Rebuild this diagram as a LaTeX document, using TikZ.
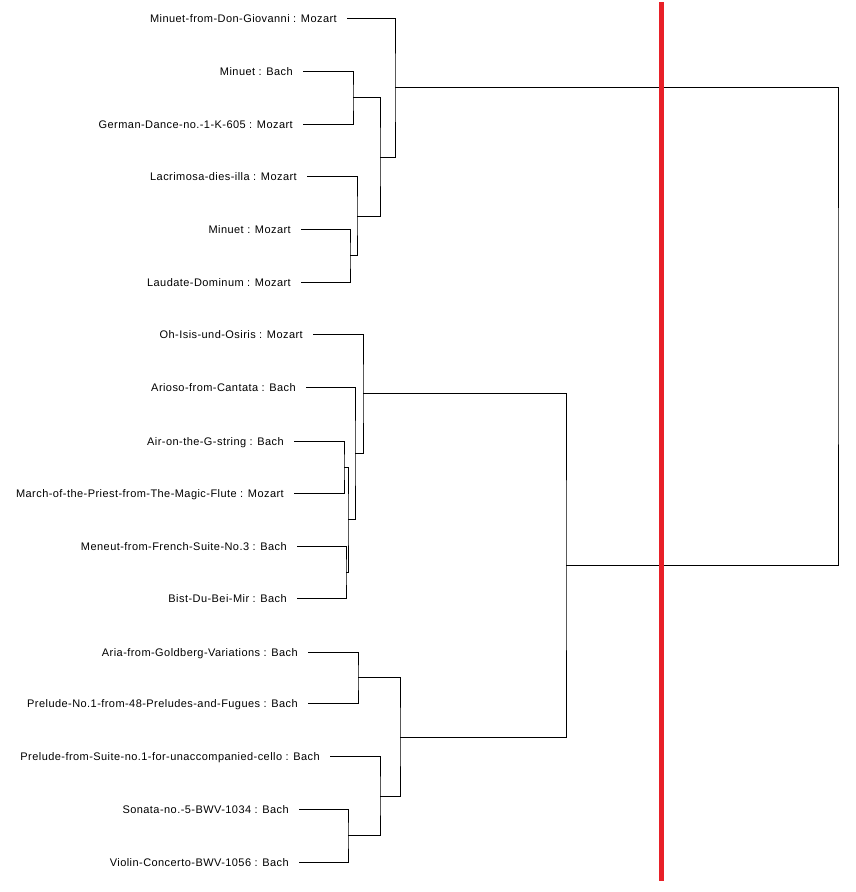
\documentclass[tikz,border=0pt]{standalone}
\usepackage{fontspec}
\setmainfont{Liberation Sans}[LetterSpace=4]
\definecolor{cutred}{RGB}{232,32,40}
\begin{document}
\begin{tikzpicture}[x=1pt,y=-1pt,
  lab/.style={anchor=base east,inner sep=0pt,font=\fontsize{11}{13}\selectfont},
  branch/.style={draw=black,line width=1pt},
  cut/.style={draw=cutred,line width=5pt}]
\useasboundingbox (0,0) rectangle (856,892);
% leaf line starts
\foreach \n/\x/\y in {1/347/18,2/303/71,3/303/124,4/307/176,5/301/229,6/301/282,
  7/313/334,8/306/387,9/294/441,10/294/493,11/297/546,12/297/598,
  13/308/652,14/308/703,15/330/756,16/299/809,17/299/862}
  \coordinate (l\n) at (\x,\y);
% labels
\tikzset{lpos/.style={xshift=-10pt,yshift=-4pt}}
\node[lab] (t1) at ([lpos]l1) {Minuet-from-Don-Giovanni : Mozart};
\node[lab] (t2) at ([lpos]l2) {Minuet : Bach};
\node[lab] (t3) at ([lpos]l3) {German-Dance-no.-1-K-605 : Mozart};
\node[lab] (t4) at ([lpos]l4) {Lacrimosa-dies-illa : Mozart};
\node[lab] (t5) at ([lpos]l5) {Minuet : Mozart};
\node[lab] (t6) at ([lpos]l6) {Laudate-Dominum : Mozart};
\node[lab] (t7) at ([lpos]l7) {Oh-Isis-und-Osiris : Mozart};
\node[lab] (t8) at ([lpos]l8) {Arioso-from-Cantata : Bach};
\node[lab] (t9) at ([lpos]l9) {Air-on-the-G-string : Bach};
\node[lab] (t10) at ([lpos]l10) {March-of-the-Priest-from-The-Magic-Flute : Mozart};
\node[lab] (t11) at ([lpos]l11) {Meneut-from-French-Suite-No.3 : Bach};
\node[lab] (t12) at ([lpos]l12) {Bist-Du-Bei-Mir : Bach};
\node[lab] (t13) at ([lpos]l13) {Aria-from-Goldberg-Variations : Bach};
\node[lab] (t14) at ([lpos]l14) {Prelude-No.1-from-48-Preludes-and-Fugues : Bach};
\node[lab] (t15) at ([lpos]l15) {Prelude-from-Suite-no.1-for-unaccompanied-cello : Bach};
\node[lab] (t16) at ([lpos]l16) {Sonata-no.-5-BWV-1034 : Bach};
\node[lab] (t17) at ([lpos]l17) {Violin-Concerto-BWV-1056 : Bach};
% merge points
\coordinate (ma) at (353,97.5);
\coordinate (mb) at (350,255.5);
\coordinate (mc) at (357,216);
\coordinate (md) at (380,157);
\coordinate (me) at (395,87.5);
\coordinate (mf) at (344,467);
\coordinate (mg) at (346,572);
\coordinate (mh) at (348,519.5);
\coordinate (mi) at (355,453);
\coordinate (mj) at (363,393.5);
\coordinate (mk) at (358,677.5);
\coordinate (mm) at (348,835.5);
\coordinate (mn) at (380,796);
\coordinate (mo) at (400,737);
\coordinate (mp) at (566,565);
\coordinate (mq) at (838,326);
% brackets
\draw[branch] (l2) -| (ma) |- (l3);
\draw[branch] (l5) -| (mb) |- (l6);
\draw[branch] (l4) -| (mc) |- (mb);
\draw[branch] (ma) -| (md) |- (mc);
\draw[branch] (l1) -| (me) |- (md);
\draw[branch] (l9) -| (mf) |- (l10);
\draw[branch] (l11) -| (mg) |- (l12);
\draw[branch] (mf) -| (mh) |- (mg);
\draw[branch] (l8) -| (mi) |- (mh);
\draw[branch] (l7) -| (mj) |- (mi);
\draw[branch] (l13) -| (mk) |- (l14);
\draw[branch] (l16) -| (mm) |- (l17);
\draw[branch] (l15) -| (mn) |- (mm);
\draw[branch] (mk) -| (mo) |- (mn);
\draw[branch] (mj) -| (mp) |- (mo);
\draw[branch] (me) -| (mq) |- (mp);
% cut line
\coordinate (ctop) at (661,2);
\coordinate (cbot) at (661,881);
\draw[cut] (ctop) -- (cbot);
\end{tikzpicture}
\end{document}
